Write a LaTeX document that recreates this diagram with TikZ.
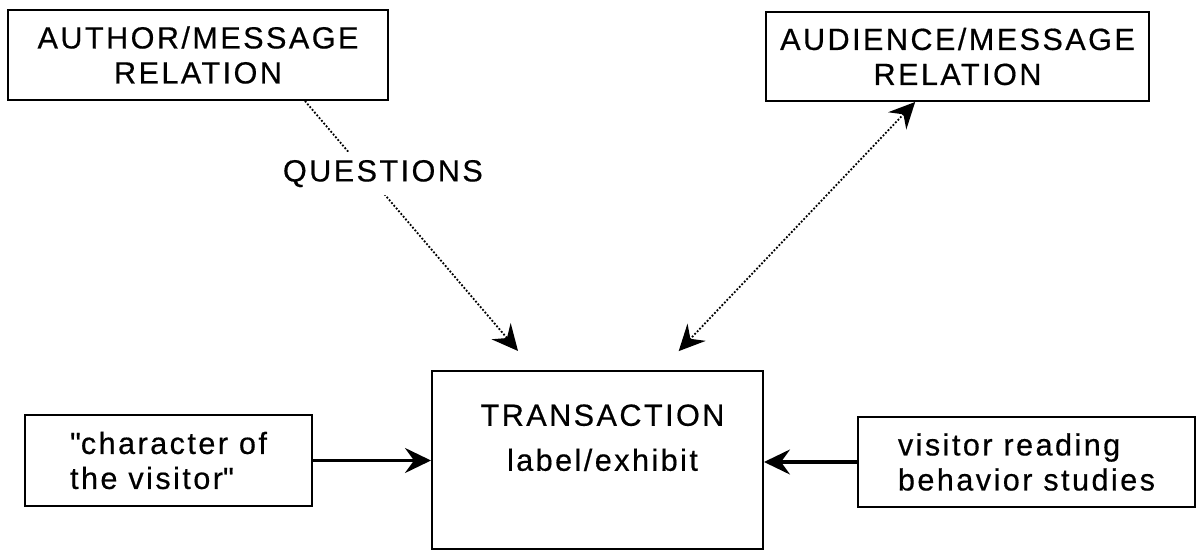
\documentclass[tikz,border=0pt]{standalone}
\usepackage{fontspec}
\setmainfont{Liberation Sans}[LetterSpace=8,FakeBold=0.5]
\usetikzlibrary{arrows.meta,calc}

\begin{document}
\begin{tikzpicture}[x=0.5pt, y=0.5pt,
    font=\fontsize{15.3}{17.5}\selectfont,
    >={Stealth[length=13pt,width=12.5pt,inset=4.5pt]},
    relbox/.style={draw, line width=1pt, inner sep=0pt, align=center},
    sidebox/.style={draw, line width=1.1pt, inner sep=0pt, align=left},
    dotlink/.style={line width=0.9pt, dash pattern=on 0.9pt off 0.9pt},
    solidlink/.style={line width=1.6pt, ->}]
  \useasboundingbox (0,0) rectangle (1196,552);
  % the two relations on top
  \node[relbox, minimum width=190pt, minimum height=45pt] (author) at (198,497) {AUTHOR/MESSAGE\\RELATION};
  \node[relbox, minimum width=191.5pt, minimum height=44.5pt] (audience) at (957.5,495.5) {AUDIENCE/MESSAGE\\RELATION};
  % the transaction and its inputs
  \node[relbox, minimum width=165.5pt, minimum height=89pt] (trans) at (597.5,92) {};
  \node[align=center, inner sep=0pt, anchor=north] (transtext) at ([xshift=2.5pt, yshift=-17pt]trans.north) {TRANSACTION\\[5pt]label/exhibit};
  \node[sidebox, minimum width=143.5pt, minimum height=45.5pt] (visitor) at (168.5,91.5) {\textquotedbl character of\\the visitor\textquotedbl};
  \node[sidebox, minimum width=168.5pt, minimum height=45pt] (studies) at (1026.5,90) {visitor reading\\behavior studies};
  % connectors
  \draw[dotlink, ->, shorten >=12.5pt] ($(author.south west)!0.78!(author.south east)$) -- ($(trans.north west)!0.31!(trans.north east)$)
    node[pos=0.27, fill=white, inner sep=4pt, xshift=8pt] (questions) {QUESTIONS};
  \draw[dotlink, <->, shorten >=13pt] ($(audience.south west)!0.39!(audience.south east)$) -- ($(trans.north west)!0.69!(trans.north east)$);
  \draw[solidlink] (visitor.east) -- (visitor.east -| trans.west);
  \draw[solidlink] (studies.west) -- (studies.west -| trans.east);
\end{tikzpicture}
\end{document}
